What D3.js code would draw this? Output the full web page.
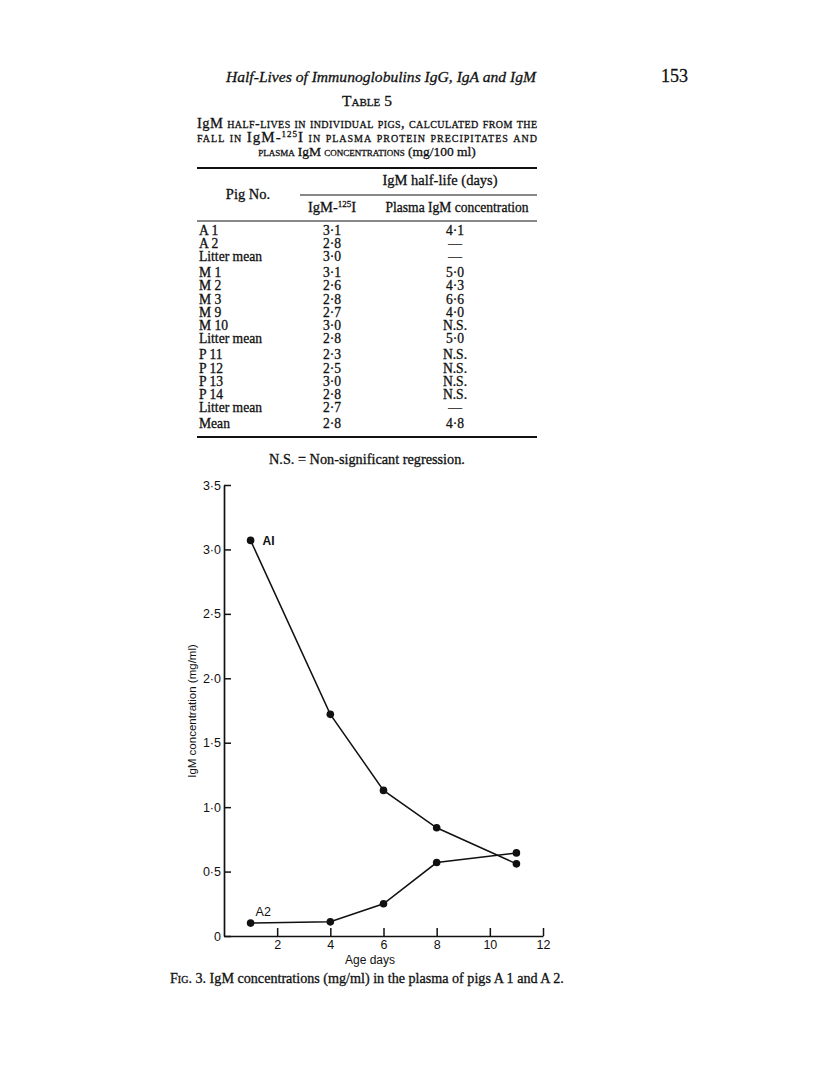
<!DOCTYPE html>
<html>
<head>
<meta charset="utf-8">
<script src="https://cdn.jsdelivr.net/npm/d3@7"></script>
<style>
  html, body { margin: 0; padding: 0; background: #fff; }
  svg { display: block; }
  .serif { font-family: "Liberation Serif", "DejaVu Serif", serif; fill: #111; stroke: #111; stroke-width: 0.3; }
  .sans { font-family: "Liberation Sans", "DejaVu Sans", sans-serif; fill: #111; }
</style>
</head>
<body>
<script>
// ---------------- Data ----------------
const pigs = ["A 1","A 2","Litter mean","M 1","M 2","M 3","M 9","M 10","Litter mean","P 11","P 12","P 13","P 14","Litter mean","Mean"];
const rowGroups = [0,0,0,1,1,1,1,1,1,2,2,2,2,2,3];
const iodineHalfLife = ["3·1","2·8","3·0","3·1","2·6","2·8","2·7","3·0","2·8","2·3","2·5","3·0","2·8","2·7","2·8"];
const plasmaHalfLife = ["4·1","—","—","5·0","4·3","6·6","4·0","N.S.","5·0","N.S.","N.S.","N.S.","N.S.","—","4·8"];

const ageDays = [1, 4, 6, 8, 11];
const pigA1 = [3.07, 1.72, 1.13, 0.84, 0.56];
const pigA2 = [0.10, 0.11, 0.25, 0.57, 0.645];
const xTickValues = [2, 4, 6, 8, 10, 12];
const yTickValues = [0, 0.5, 1.0, 1.5, 2.0, 2.5, 3.0, 3.5];
const yTickLabels = ["0","0·5","1·0","1·5","2·0","2·5","3·0","3·5"];

// ---------------- Page ----------------
const W = 816, H = 1085;
const svg = d3.select("body").append("svg").attr("width", W).attr("height", H);
svg.append("rect").attr("width", W).attr("height", H).attr("fill", "#fff");

function fitWidth(sel, target) {
  const n = sel.node();
  const w = n.getComputedTextLength();
  const fs = parseFloat(sel.attr("font-size"));
  if (w > 0) sel.attr("font-size", (fs * target / w).toFixed(2));
  return sel;
}

// Running header
const title = svg.append("text").attr("class", "serif")
  .attr("x", 226).attr("y", 82).attr("font-size", 18).attr("font-style", "italic")
  .text("Half-Lives of Immunoglobulins IgG, IgA and IgM");
fitWidth(title, 310);
svg.append("text").attr("class", "serif")
  .attr("x", 688).attr("y", 82).attr("text-anchor", "end").attr("font-size", 18)
  .text("153");

// Table heading
svg.append("text").attr("class", "serif")
  .attr("x", 367).attr("y", 106).attr("text-anchor", "middle").attr("font-size", 15.5)
  .style("font-variant", "small-caps").text("Table 5");

const cap1 = svg.append("text").attr("class", "serif").attr("x", 197).attr("y", 128).attr("font-size", 14)
  .attr("textLength", 340).attr("lengthAdjust", "spacing");
cap1.append("tspan").attr("font-size", 14.5).text("IgM");
cap1.append("tspan").style("font-variant", "small-caps").text(" half-lives in individual pigs, calculated from the");

const cap2 = svg.append("text").attr("class", "serif").attr("x", 197).attr("y", 142).attr("font-size", 14)
  .attr("textLength", 340).attr("lengthAdjust", "spacing");
cap2.append("tspan").style("font-variant", "small-caps").text("fall in ");
cap2.append("tspan").attr("font-size", 15).text("IgM-");
cap2.append("tspan").attr("font-size", 9).attr("dy", -5).text("125");
cap2.append("tspan").attr("font-size", 15).attr("dy", 5).text("I");
cap2.append("tspan").style("font-variant", "small-caps").text(" in plasma protein precipitates and");

const cap3 = svg.append("text").attr("class", "serif").attr("x", 367).attr("y", 156).attr("font-size", 12.8)
  .attr("text-anchor", "middle");
cap3.append("tspan").style("font-variant", "small-caps").text("plasma ");
cap3.append("tspan").attr("font-size", 13.5).text("IgM");
cap3.append("tspan").style("font-variant", "small-caps").text(" concentrations ");
cap3.append("tspan").attr("font-size", 13.5).text("(mg/100 ml)");

// Table rules
const TL = 197, TR = 537;
svg.append("line").attr("x1", TL).attr("x2", TR).attr("y1", 168).attr("y2", 168).attr("stroke", "#111").attr("stroke-width", 1.8);
svg.append("line").attr("x1", 300).attr("x2", TR).attr("y1", 195).attr("y2", 195).attr("stroke", "#111").attr("stroke-width", 1);
svg.append("line").attr("x1", TL).attr("x2", TR).attr("y1", 221).attr("y2", 221).attr("stroke", "#111").attr("stroke-width", 1);
svg.append("line").attr("x1", TL).attr("x2", TR).attr("y1", 437).attr("y2", 437).attr("stroke", "#111").attr("stroke-width", 1.8);

const colIod = 332, colPl = 455;
svg.append("text").attr("class", "serif").attr("x", 440).attr("y", 185).attr("text-anchor", "middle")
  .attr("font-size", 14.5).text("IgM half-life (days)");
svg.append("text").attr("class", "serif").attr("x", 248).attr("y", 199).attr("text-anchor", "middle")
  .attr("font-size", 14.5).text("Pig No.");
const h2 = svg.append("text").attr("class", "serif").attr("x", colIod).attr("y", 212).attr("text-anchor", "middle")
  .attr("font-size", 14.5);
h2.append("tspan").text("IgM-");
h2.append("tspan").attr("font-size", 9).attr("dy", -5).text("125");
h2.append("tspan").attr("dy", 5).text("I");
const h3 = svg.append("text").attr("class", "serif").attr("x", 457).attr("y", 212).attr("text-anchor", "middle")
  .attr("font-size", 14).text("Plasma IgM concentration");
fitWidth(h3, 143);

// Rows
const rowPitch = 13.1, groupGap = 3.5, firstRow = 234.5;
const rowY = rowGroups.map((g, i) => firstRow + i * rowPitch + g * groupGap);
const rows = svg.append("g").selectAll("g").data(pigs).join("g");
rows.append("text").attr("class", "serif").attr("x", 199).attr("y", (d, i) => rowY[i])
  .attr("font-size", 13.6).text(d => d);
rows.append("text").attr("class", "serif").attr("x", colIod).attr("y", (d, i) => rowY[i])
  .attr("text-anchor", "middle").attr("font-size", 13.6).text((d, i) => iodineHalfLife[i]);
rows.append("text").attr("class", "serif").attr("x", colPl).attr("y", (d, i) => rowY[i])
  .attr("text-anchor", "middle").attr("font-size", 13.6).text((d, i) => plasmaHalfLife[i]);

const ns = svg.append("text").attr("class", "serif").attr("x", 367).attr("y", 464).attr("text-anchor", "middle")
  .attr("font-size", 14).text("N.S. = Non-significant regression.");
fitWidth(ns, 196);

// ---------------- Chart ----------------
const x = d3.scaleLinear().domain([0, 12]).range([224, 543]);
const y = d3.scaleLinear().domain([0, 3.5]).range([936, 485]);

const xAxis = d3.axisBottom(x).tickValues(xTickValues).tickSizeInner(-8).tickSizeOuter(0).tickPadding(4)
  .tickFormat(d3.format("d"));
const gx = svg.append("g").attr("transform", `translate(0,${y(0)})`).call(xAxis);
gx.select(".domain").attr("stroke", "#111").attr("stroke-width", 1.7);
gx.selectAll(".tick line").attr("stroke", "#111").attr("stroke-width", 1.5);
gx.selectAll(".tick text").attr("font-family", "'Liberation Sans', sans-serif").attr("font-size", 12.5).attr("fill", "#111");

const yAxis = d3.axisLeft(y).tickValues(yTickValues).tickSizeInner(-7).tickSizeOuter(0).tickPadding(3)
  .tickFormat((d, i) => yTickLabels[i]);
const gy = svg.append("g").attr("transform", `translate(${x(0)},0)`).call(yAxis);
gy.select(".domain").attr("stroke", "#111").attr("stroke-width", 1.7);
gy.selectAll(".tick line").attr("stroke", "#111").attr("stroke-width", 1.5);
gy.selectAll(".tick text").attr("font-family", "'Liberation Sans', sans-serif").attr("font-size", 12.5).attr("fill", "#111");

svg.append("text").attr("class", "sans")
  .attr("transform", `translate(196,${(645 + 777) / 2}) rotate(-90)`)
  .attr("text-anchor", "middle").attr("font-size", 11.5).text("IgM concentration (mg/ml)");
svg.append("text").attr("class", "sans").attr("x", 370).attr("y", 964).attr("text-anchor", "middle")
  .attr("font-size", 12).text("Age days");

const line = d3.line().x(d => x(d[0])).y(d => y(d[1]));
[pigA1, pigA2].forEach(series => {
  const pts = ageDays.map((d, i) => [d, series[i]]);
  svg.append("path").datum(pts).attr("d", line).attr("fill", "none").attr("stroke", "#111").attr("stroke-width", 1.5);
  svg.append("g").selectAll("circle").data(pts).join("circle")
    .attr("cx", d => x(d[0])).attr("cy", d => y(d[1])).attr("r", 3.8).attr("fill", "#111");
});

svg.append("text").attr("class", "sans").attr("x", x(ageDays[0]) + 12).attr("y", y(pigA1[0]) + 5)
  .attr("font-size", 12).attr("font-weight", "bold").text("AI");
svg.append("text").attr("class", "sans").attr("x", x(ageDays[0]) + 5).attr("y", y(pigA2[0]) - 7)
  .attr("font-size", 12.5).text("A2");

// Figure caption
const fig = svg.append("text").attr("class", "serif").attr("x", 170).attr("y", 983).attr("font-size", 14);
fig.append("tspan").style("font-variant", "small-caps").text("Fig. 3. ");
fig.append("tspan").text("IgM concentrations (mg/ml) in the plasma of pigs A 1 and A 2.");
fitWidth(fig, 394);
</script>
</body>
</html>
